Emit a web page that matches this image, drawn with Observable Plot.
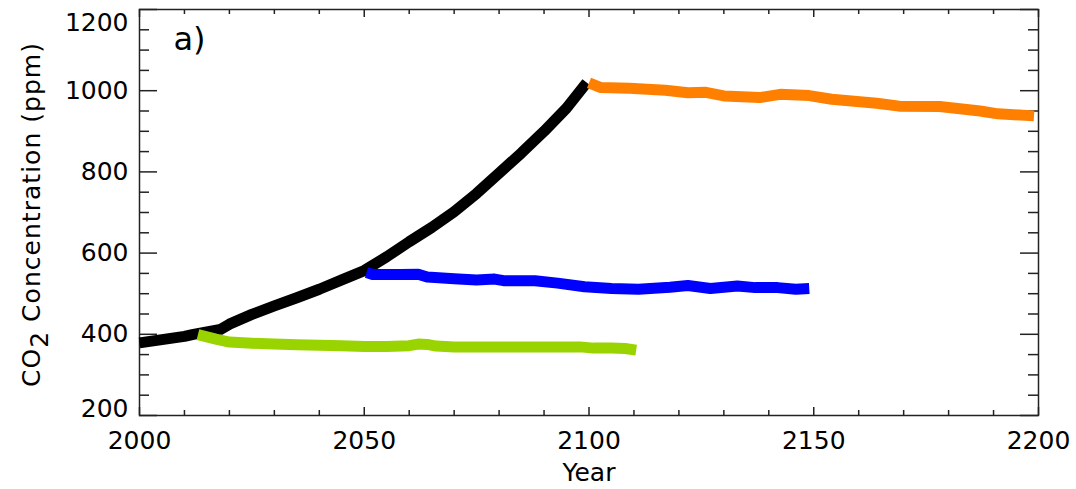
<!DOCTYPE html>
<html><head><meta charset="utf-8">
<script src="https://cdn.jsdelivr.net/npm/d3@7"></script>
<script src="https://cdn.jsdelivr.net/npm/@observablehq/plot@0.6"></script>
<style>
html,body{margin:0;padding:0;background:#fff}
svg{display:block}
</style>
</head><body><div id="chart"></div>
<script>
// ---- data ----
const seriesNames = ["Historical + growth", "Stabilise 2013", "Stabilise 2050", "Stabilise 2100"];
const seriesColors = ["#000000", "#99d400", "#0000ff", "#ff8000"];

const blackYears  = [2000, 2005, 2010, 2012, 2018, 2020, 2025, 2030, 2035, 2040, 2045, 2050, 2055, 2060, 2065, 2070, 2075, 2080, 2085, 2090, 2095, 2099.5];
const blackValues = [379, 387, 395, 400, 412, 425, 449, 470, 490, 511, 534, 557, 591, 628, 663, 702, 747, 797, 847, 900, 957, 1020];

const greenYears  = [2013, 2017, 2020, 2025, 2030, 2035, 2040, 2045, 2050, 2055, 2060, 2062, 2064, 2066, 2070, 2080, 2090, 2098, 2101, 2105, 2108, 2110.5];
const greenValues = [399, 388, 381, 378, 376, 374, 373, 372, 370, 370, 372, 376, 375, 371, 369, 369, 369, 369, 366, 366, 365, 361];

const blueYears  = [2050.5, 2052, 2058, 2062, 2064, 2070, 2075, 2079, 2081, 2088, 2093, 2099, 2105, 2111, 2118, 2122, 2127, 2133, 2137, 2142, 2146, 2149];
const blueValues = [552, 547, 547, 548, 541, 537, 534, 536, 532, 532, 526, 517, 513, 511, 516, 520, 513, 519, 515, 515, 511, 513];

const orangeYears  = [2100, 2102.5, 2109, 2117, 2122, 2126, 2130, 2138, 2142.5, 2149, 2154, 2164, 2169, 2178, 2187, 2191, 2199];
const orangeValues = [1019, 1008, 1006, 1001, 995, 996, 987, 983, 991, 988, 979, 969, 962, 961, 950, 943, 938];

const xTickValues = [2000, 2050, 2100, 2150, 2200];
const xMinorTicks = d3.range(2010, 2200, 10).filter(v => v % 50 !== 0);
const yTickValues = [200, 400, 600, 800, 1000, 1200];
const yMinorTicks = d3.range(250, 1200, 50).filter(v => v % 200 !== 0);

const xLabel = "Year";
const panelLabel = "a)";

// ---- build rows ----
const allYears = [blackYears, greenYears, blueYears, orangeYears];
const allValues = [blackValues, greenValues, blueValues, orangeValues];
const rows = [];
seriesNames.forEach((name, i) => {
  allYears[i].forEach((yr, j) => rows.push({series: name, year: yr, value: allValues[i][j]}));
});

// ---- layout ----
const W = 1076, H = 489;
const mL = 139, mR = 38, mT = 9, mB = 74;
const pw = W - mL - mR, ph = H - mT - mB;
const font = "DejaVu Sans, sans-serif";

const plot = Plot.plot({
  width: W, height: H,
  marginLeft: mL, marginRight: mR, marginTop: mT, marginBottom: mB,
  style: {fontFamily: font, fontSize: "25px", color: "#000", background: "#fff"},
  x: {domain: [2000, 2200], axis: null},
  y: {domain: [200, 1200], axis: null},
  color: {domain: seriesNames, range: seriesColors},
  marks: [
    // inward ticks: left/right (y), top/bottom (x)
    Plot.tickY(yTickValues, {y: d => d, insetRight: pw - 18, stroke: "#222", strokeWidth: 1.5}),
    Plot.tickY(yTickValues, {y: d => d, insetLeft: pw - 18, stroke: "#222", strokeWidth: 1.5}),
    Plot.tickY(yMinorTicks, {y: d => d, insetRight: pw - 10, stroke: "#222", strokeWidth: 1.5}),
    Plot.tickY(yMinorTicks, {y: d => d, insetLeft: pw - 10, stroke: "#222", strokeWidth: 1.5}),
    Plot.tickX(xTickValues, {x: d => d, insetBottom: ph - 8, stroke: "#222", strokeWidth: 1.5}),
    Plot.tickX(xTickValues, {x: d => d, insetTop: ph - 8, stroke: "#222", strokeWidth: 1.5}),
    Plot.tickX(xMinorTicks, {x: d => d, insetBottom: ph - 5, stroke: "#222", strokeWidth: 1.5}),
    Plot.tickX(xMinorTicks, {x: d => d, insetTop: ph - 5, stroke: "#222", strokeWidth: 1.5}),
    Plot.frame({stroke: "#222", strokeWidth: 1.5}),
    // data lines
    Plot.line(rows, {x: "year", y: "value", z: "series", stroke: "series",
      strokeWidth: 11, strokeLinecap: "butt", strokeLinejoin: "round", curve: "linear"}),
    // y tick labels
    Plot.text(yTickValues.filter(v => v > 200 && v < 1200), {y: d => d, text: d => String(d),
      frameAnchor: "left", textAnchor: "end", dx: -11, fill: "#000"}),
    Plot.text([1200], {y: d => d, text: d => String(d), frameAnchor: "left", textAnchor: "end", dx: -11, dy: 13, fill: "#000"}),
    Plot.text([200], {y: d => d, text: d => String(d), frameAnchor: "left", textAnchor: "end", dx: -11, dy: -7, fill: "#000"}),
    // x tick labels
    Plot.text(xTickValues, {x: d => d, text: d => String(d), frameAnchor: "bottom", dy: 25, lineAnchor: "middle", fill: "#000"}),
    // x axis label
    Plot.text([xLabel], {text: d => d, frameAnchor: "bottom", dy: 57, lineAnchor: "middle", fill: "#000"}),
    // panel label
    Plot.text([panelLabel], {text: d => d, frameAnchor: "top-left", dx: 34, dy: 40, textAnchor: "start", lineAnchor: "bottom", fontSize: 32, fill: "#000"})
  ]
});

// y axis title with subscript
const svg = d3.select(plot);
const t = svg.append("text")
  .attr("transform", `translate(40,${mT + ph / 2 + 3}) rotate(-90)`)
  .attr("text-anchor", "middle")
  .attr("font-family", font)
  .attr("font-size", 25)
  .attr("fill", "#000")
  .attr("textLength", 344)
  .attr("lengthAdjust", "spacing");
t.append("tspan").text("CO");
t.append("tspan").attr("dy", 8).text("2");
t.append("tspan").attr("dy", -8).text(" Concentration (ppm)");

document.getElementById("chart").appendChild(plot);
</script>
</body></html>
